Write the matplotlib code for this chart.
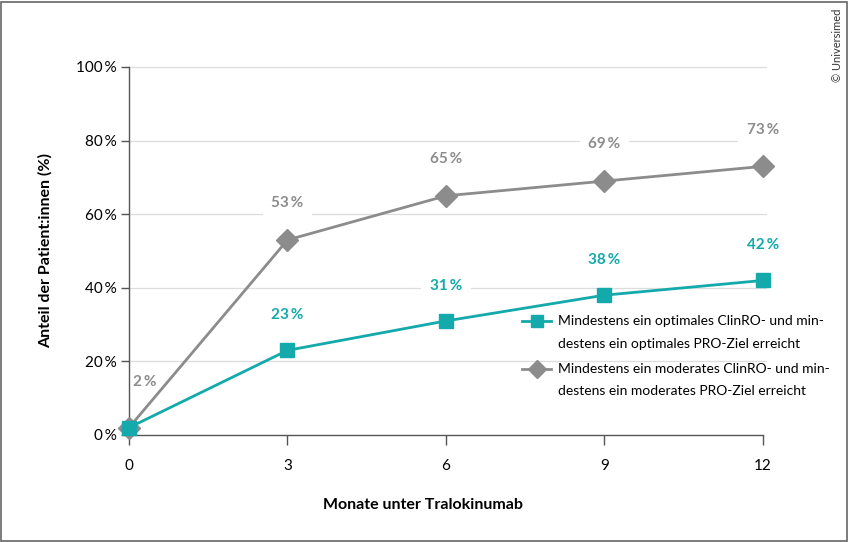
import matplotlib
matplotlib.use("Agg")
import matplotlib.pyplot as plt
from matplotlib.patches import Rectangle
from matplotlib.legend_handler import HandlerLine2D

plt.rcParams['font.family'] = ['Lato', 'DejaVu Sans']

months = [0, 3, 6, 9, 12]
optimal = [2, 23, 31, 38, 42]
moderate = [2, 53, 65, 69, 73]
yticks = [0, 20, 40, 60, 80, 100]
ytick_labels = ["0\u2009%", "20\u2009%", "40\u2009%", "60\u2009%", "80\u2009%", "100\u2009%"]
label_optimal = "Mindestens ein optimales ClinRO- und min-\ndestens ein optimales PRO-Ziel erreicht"
label_moderate = "Mindestens ein moderates ClinRO- und min-\ndestens ein moderates PRO-Ziel erreicht"

teal = "#14A9AB"
gray = "#8C8C8C"
dark = "#555555"


class FirstLineHandler(HandlerLine2D):
    def create_artists(self, legend, orig_handle, xdescent, ydescent, width, height,
                       fontsize, trans):
        artists = super().create_artists(legend, orig_handle, xdescent, ydescent,
                                         width, height, fontsize, trans)
        for a in artists:
            a.set_ydata([y + 7.9 for y in a.get_ydata()])
        return artists


fig = plt.figure(figsize=(8.54, 5.42), dpi=100)
ax = fig.add_axes([129/854, 1-435/542, (763-129)/854, (435-67)/542])
ax.set_xlim(0, 12)
ax.set_ylim(0, 100)

for y in yticks[1:]:
    ax.plot([0, 12.05], [y, y], color="#dddddd", lw=0.9, zorder=0, clip_on=False)

l_mod, = ax.plot(months, moderate, color=gray, lw=2.0, marker="D", markersize=11,
                 clip_on=False, zorder=3, label=label_moderate)
l_opt, = ax.plot(months, optimal, color=teal, lw=2.0, marker="s", markersize=10,
                 clip_on=False, zorder=4, label=label_optimal)

for i, (m, v) in enumerate(zip(months, moderate)):
    if i == 0:
        ax.text(m + 0.08, v + 12.5, f"{v}\u2009%", color=gray, fontsize=11, fontweight="bold",
                ha="left", va="center", zorder=5)
    else:
        ax.text(m, v + 10, f"{v}\u2009%", color=gray, fontsize=11, fontweight="bold",
                ha="center", va="center", zorder=5,
                bbox=dict(facecolor="white", edgecolor="none", pad=6))
for i, (m, v) in enumerate(zip(months, optimal)):
    if i == 0:
        continue
    ax.text(m, v + 9.5, f"{v}\u2009%", color=teal, fontsize=11, fontweight="bold",
            ha="center", va="center", zorder=5,
            bbox=dict(facecolor="white", edgecolor="none", pad=6))

ax.set_xticks(months)
ax.set_xticklabels([str(m) for m in months], fontsize=11)
ax.set_yticks(yticks)
ax.set_yticklabels(ytick_labels, fontsize=11)
ax.tick_params(axis="x", length=7, width=1, color=dark, pad=10)
ax.tick_params(axis="y", length=6, width=1, color=dark, pad=3)
for s in ["top", "right"]:
    ax.spines[s].set_visible(False)
for s in ["left", "bottom"]:
    ax.spines[s].set_color(dark)
    ax.spines[s].set_linewidth(1.0)

fig.text(423/854, 1-505/542, "Monate unter Tralokinumab", fontsize=11.5, fontweight="bold",
         ha="center", va="center")
ax.set_ylabel("Anteil der Patient:innen (%)", fontsize=11.5, fontweight="bold", labelpad=17)

h = FirstLineHandler()
leg = ax.legend([l_opt, l_mod], [label_optimal, label_moderate], loc="upper left",
                bbox_to_anchor=(522/854, 1-315/542), bbox_transform=fig.transFigure,
                frameon=False, fontsize=10.0, handlelength=2.1, handletextpad=0.5,
                labelspacing=0.95, borderaxespad=0, borderpad=0, markerscale=0.8,
                handler_map={l_opt: h, l_mod: h})
for t in leg.get_texts():
    t.set_linespacing(2.05)

fig.text(838/854, 1-45/542, "\u00a9 Universimed", rotation=90, fontsize=8, color="#333333",
         ha="center", va="center")

fig.patches.append(Rectangle((0.5/854, 1.5/542), 847/854, 539/542, transform=fig.transFigure,
                             fill=False, edgecolor="#666666", lw=1.2))

fig.savefig("out.png", dpi=100)
